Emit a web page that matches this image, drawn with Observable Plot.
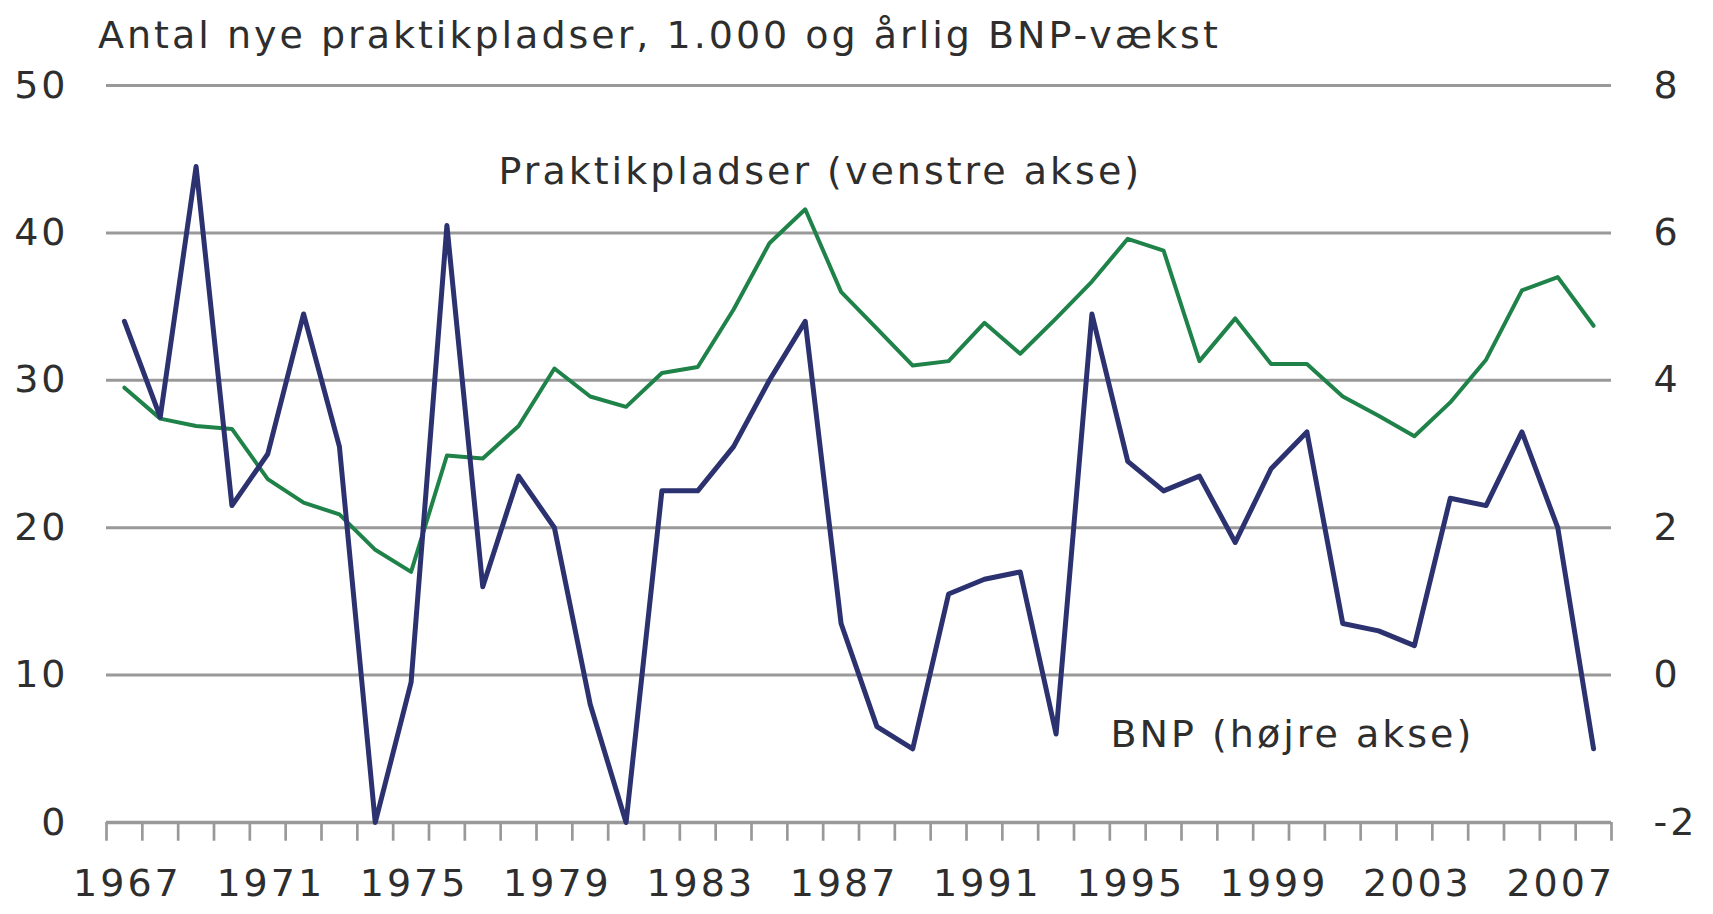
<!DOCTYPE html>
<html><head><meta charset="utf-8">
<script src="https://cdn.jsdelivr.net/npm/d3@7"></script>
<script src="https://cdn.jsdelivr.net/npm/@observablehq/plot@0.6"></script>
<style>
body{margin:0;background:#fff;font-family:"DejaVu Sans",Verdana,sans-serif;}
#title{height:60px;line-height:70px;padding-left:98px;font-size:38px;letter-spacing:3px;color:#2e2e2e;white-space:nowrap;}
</style></head><body>
<div id="title">Antal nye praktikpladser, 1.000 og årlig BNP-vækst</div>
<div id="chart"></div>
<script>
const years = [1967,1968,1969,1970,1971,1972,1973,1974,1975,1976,
  1977,1978,1979,1980,1981,1982,1983,1984,1985,1986,
  1987,1988,1989,1990,1991,1992,1993,1994,1995,1996,
  1997,1998,1999,2000,2001,2002,2003,2004,2005,2006,
  2007,2008];
// Antal nye praktikpladser, 1.000 (venstre akse)
const praktik = [29.5,27.4,26.9,26.7,23.3,21.7,20.9,18.5,17.0,24.9,
  24.7,26.9,30.8,28.9,28.2,30.5,30.9,34.8,39.3,41.6,
  36.0,33.5,31.0,31.3,33.9,31.8,34.2,36.7,39.6,38.8,
  31.3,34.2,31.1,31.1,28.9,27.6,26.2,28.5,31.4,36.1,
  37.0,33.7];
// Årlig BNP-vækst, pct. (højre akse)
const bnp = [4.8,3.5,6.9,2.3,3.0,4.9,3.1,-2.0,-0.1,6.1,
  1.2,2.7,2.0,-0.4,-2.0,2.5,2.5,3.1,4.0,4.8,
  0.7,-0.7,-1.0,1.1,1.3,1.4,-0.8,4.9,2.9,2.5,
  2.7,1.8,2.8,3.3,0.7,0.6,0.4,2.4,2.3,3.3,
  2.0,-1.0];
const leftTicks = [0,10,20,30,40,50];
const rightTicks = [-2,0,2,4,6,8];
const xLabels = [1967,1971,1975,1979,1983,1987,1991,1995,1999,2003,2007];
const seriesNames = ["Praktikpladser (venstre akse)", "BNP (højre akse)"];

const green = "#1f8249", navy = "#2c3270", grid = "#999999", ink = "#2e2e2e";
const toLeft = r => (r + 2) * 5; // right axis -2..8 onto left axis 0..50
const data = years.map((y, i) => ({year: y, p: praktik[i], b: bnp[i]}));
const bounds = years.map(y => y - 0.5).concat([years[years.length - 1] + 0.5]);
const FS = 38;

const chart = Plot.plot({
  width: 1713, height: 854,
  marginTop: 25, marginBottom: 92, marginLeft: 106, marginRight: 102,
  style: {fontFamily: "DejaVu Sans, Verdana, sans-serif", fontSize: FS + "px", letterSpacing: "3px", background: "#fff", color: ink},
  x: {domain: [bounds[0], bounds[bounds.length - 1]], axis: null},
  y: {domain: [0, 50], axis: null},
  marks: [
    Plot.ruleY(leftTicks.slice(1), {y: d => d, stroke: grid, strokeWidth: 3}),
    Plot.ruleX(bounds, {x: d => d, y1: 0, y2: -1.27, stroke: grid, strokeWidth: 2.7}),
    Plot.ruleY([0], {stroke: grid, strokeWidth: 3.5}),
    Plot.text(leftTicks, {y: d => d, frameAnchor: "left", dx: -38, textAnchor: "end", text: d => String(d), fill: ink, fontSize: FS}),
    Plot.text(rightTicks, {y: r => toLeft(r), frameAnchor: "right", dx: 42, textAnchor: "start", text: r => String(r), fill: ink, fontSize: FS}),
    Plot.text(xLabels, {x: d => d, frameAnchor: "bottom", dy: 73, dx: 3, text: d => String(d), fill: ink, fontSize: FS}),
    Plot.line(data, {x: "year", y: "p", stroke: green, strokeWidth: 4, strokeLinejoin: "round"}),
    Plot.line(data, {x: "year", y: d => toLeft(d.b), stroke: navy, strokeWidth: 5, strokeLinejoin: "round"}),
    Plot.text([seriesNames[0]], {x: 1977.44, y: 44.16, textAnchor: "start", text: d => d, fill: ink, fontSize: FS}),
    Plot.text([seriesNames[1]], {x: 1994.52, y: toLeft(-0.81), textAnchor: "start", text: d => d, fill: ink, fontSize: FS})
  ]
});
document.getElementById("chart").appendChild(chart);
</script>
</body></html>
